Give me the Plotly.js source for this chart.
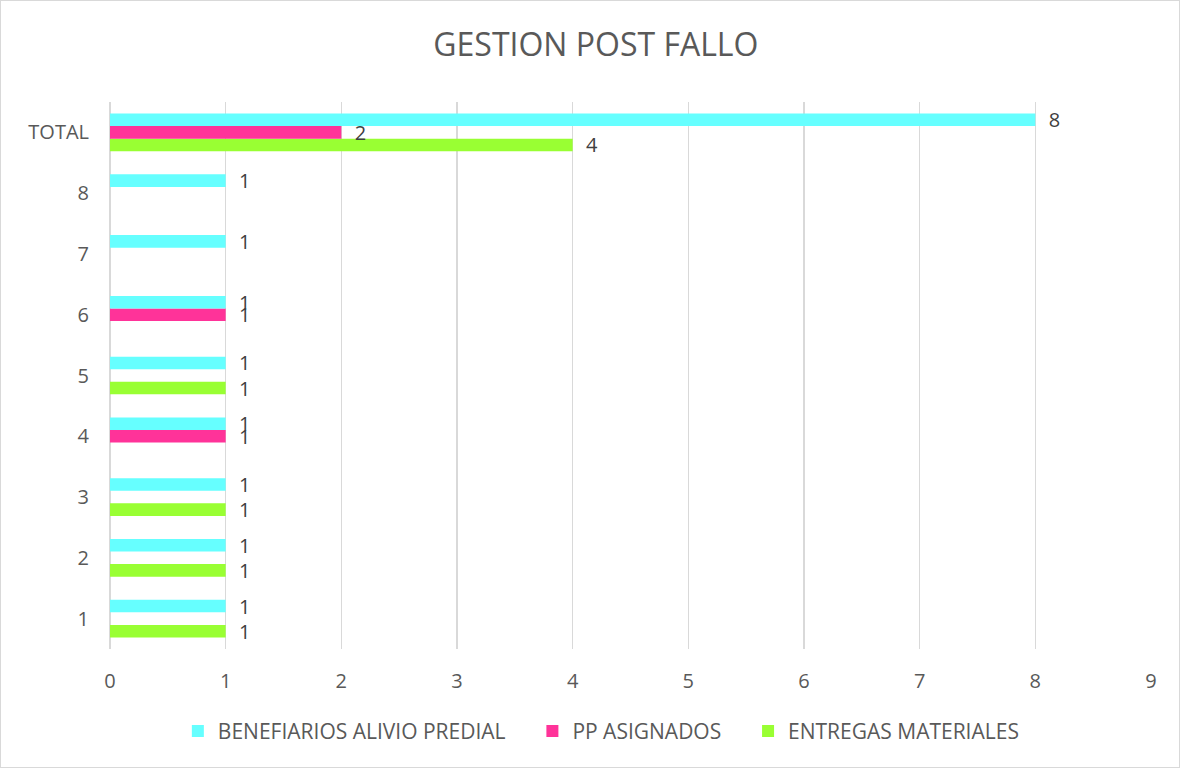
<!DOCTYPE html>
<html>
<head>
<meta charset="utf-8">
<script src="https://cdn.plot.ly/plotly-3.0.1.min.js"></script>
<style>
  html, body { margin: 0; padding: 0; background: #fff; }
  #chart { width: 1178px; height: 766px; border: 1px solid #d9d9d9; }
</style>
</head>
<body>
<div id="chart"></div>
<script>
const categories = ['1', '2', '3', '4', '5', '6', '7', '8', 'TOTAL'];
const seriesNames = ['BENEFIARIOS ALIVIO PREDIAL', 'PP ASIGNADOS', 'ENTREGAS MATERIALES'];
const beneficiarios = [1, 1, 1, 1, 1, 1, 1, 1, 8];
const ppAsignados = [null, null, null, 1, null, 1, null, null, 2];
const entregas = [1, 1, 1, null, 1, null, null, null, 4];
const xTicks = [0, 1, 2, 3, 4, 5, 6, 7, 8, 9];

const colors = ['#66FFFF', '#FF3399', '#99FF33'];
const font = '"Open Sans", "Noto Sans", sans-serif';
const pad = '\u00a0\u00a0\u00a0\u00a0';

function mk(name, vals, color, last) {
  return {
    type: 'bar', orientation: 'h', name: last ? name : name + pad,
    y: categories, x: vals,
    marker: { color: color },
    text: vals.map(v => v == null ? '' : '  ' + v),
    textposition: 'outside',
    constraintext: 'none',
    cliponaxis: false,
    textfont: { family: font, size: 20, color: '#404040' },
    hoverinfo: 'x+name'
  };
}

// Plotly places first trace at bottom of group; add in reverse so cyan is on top
const data = [
  mk(seriesNames[2], entregas, colors[2], true),
  mk(seriesNames[1], ppAsignados, colors[1], false),
  mk(seriesNames[0], beneficiarios, colors[0], false)
];

const layout = {
  width: 1178, height: 766,
  margin: { l: 109, r: 28, t: 101, b: 118 },
  paper_bgcolor: '#fff', plot_bgcolor: '#fff',
  barmode: 'group', bargap: 0.38, bargroupgap: 0,
  title: { text: 'GESTION POST FALLO', font: { family: font, size: 32, color: '#595959' }, x: 0.505, xanchor: 'center', y: 0.943, yanchor: 'middle' },
  xaxis: {
    range: [0, 9], tickvals: xTicks, ticktext: xTicks.map(String),
    showgrid: true, gridcolor: '#d9d9d9', gridwidth: 1.5,
    zeroline: true, zerolinecolor: '#d9d9d9', zerolinewidth: 1.5,
    showline: false, ticks: '', ticklabelstandoff: 18,
    tickfont: { family: font, size: 20, color: '#595959' }
  },
  yaxis: {
    type: 'category', categoryorder: 'array', categoryarray: categories,
    showgrid: false, zeroline: false, showline: false, ticks: '', ticklabelstandoff: 20,
    tickfont: { family: font, size: 20, color: '#595959' }
  },
  legend: {
    orientation: 'h', traceorder: 'reversed',
    x: 0.472, xanchor: 'center', y: -0.113, yanchor: 'top',
    font: { family: font, size: 21, color: '#595959' },
    itemwidth: 30, tracegroupgap: 0
  },
  showlegend: true
};

Plotly.newPlot('chart', data, layout, { displayModeBar: false, staticPlot: true });
</script>
</body>
</html>
